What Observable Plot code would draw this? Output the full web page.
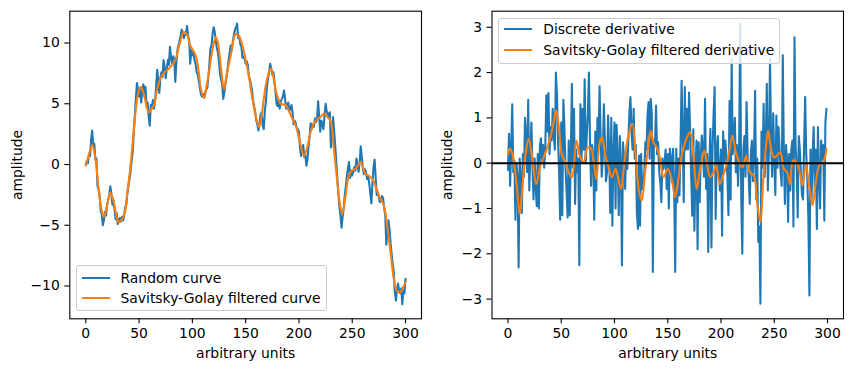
<!DOCTYPE html>
<html><head><meta charset="utf-8">
<script src="https://cdn.jsdelivr.net/npm/d3@7"></script>
<script src="https://cdn.jsdelivr.net/npm/@observablehq/plot@0.6"></script>
<style>
body{margin:0;background:#fff;font-family:"DejaVu Sans",sans-serif;}
#wrap{position:relative;width:853px;height:371px;}
.plot{position:absolute;top:0;}
.legend{position:absolute;border:1px solid #cccccc;border-radius:3px;background:rgba(255,255,255,0.8);box-sizing:border-box;}
.row{position:absolute;left:0;height:20px;display:flex;align-items:center;font-size:13.9px;color:#000;white-space:nowrap;}
.sw{display:inline-block;width:28px;height:2px;margin-left:5px;margin-right:11px;}
</style></head>
<body>
<div id="wrap"></div>
<script>
const xTicks = [0, 50, 100, 150, 200, 250, 300];
const leftYTicks = [-10, -5, 0, 5, 10];
const rightYTicks = [-3, -2, -1, 0, 1, 2, 3];
const seriesNames = ["Random curve", "Savitsky-Golay filtered curve"];
const derivNames = ["Discrete derivative", "Savitsky-Golay filtered derivative"];
const xLabel = "arbitrary units";
const yLabel = "amplitude";

// Random curve (index = arbitrary units)
const randomCurve = [
0.0,0.3,0.1,0.9,0.7,2.0,2.8,1.6,1.7,0.4,
0.5,-1.8,-2.0,-2.6,-3.8,-4.1,-5.0,-4.6,-3.9,-4.2,
-3.3,-2.9,-2.5,-1.8,-2.4,-3.3,-3.0,-3.7,-4.5,-4.0,
-4.9,-4.6,-4.4,-4.7,-4.3,-4.6,-4.2,-3.5,-3.3,-2.4,
-1.8,-1.2,-0.6,0.3,1.0,2.6,4.0,5.4,6.7,6.2,
5.6,6.2,5.1,6.0,6.6,5.9,6.4,4.8,5.1,4.0,
3.2,4.9,4.8,5.3,4.6,5.2,6.4,7.8,6.9,5.9,
7.1,7.6,7.2,8.6,8.0,7.1,7.9,8.6,8.2,9.7,
8.8,8.3,8.9,8.7,6.8,8.4,9.4,9.8,10.2,10.6,
11.1,10.8,10.4,10.7,10.7,11.4,10.6,10.2,8.3,9.4,
9.0,9.2,8.6,8.3,7.6,7.4,6.9,6.3,5.8,5.6,
5.8,5.5,5.9,6.2,6.3,7.2,8.3,9.6,9.8,10.8,
11.3,10.9,10.2,9.6,9.2,8.4,7.4,7.0,6.6,5.4,
5.9,6.6,7.2,7.8,8.6,9.2,9.8,9.4,10.1,10.7,
11.1,11.3,11.6,10.4,10.6,9.9,9.7,8.8,8.9,8.7,
8.3,8.5,8.2,7.3,7.0,6.6,6.1,5.2,4.8,4.3,
3.6,3.3,2.8,3.4,4.1,4.3,3.2,2.9,4.4,5.2,
6.4,7.1,7.6,8.3,7.9,7.4,7.6,6.9,6.0,5.0,
4.8,5.3,4.6,5.2,5.4,5.6,6.1,5.4,4.6,4.9,
5.1,4.4,4.6,4.9,4.3,3.3,3.6,3.4,3.0,2.9,
2.7,1.4,0.7,1.2,1.6,0.6,0.8,-0.1,0.4,1.5,
2.3,3.4,2.9,3.3,3.1,3.8,3.5,3.7,5.2,3.9,
2.7,3.6,3.4,2.9,4.0,5.0,4.4,4.2,3.8,4.3,
1.4,2.3,3.9,2.8,1.6,0.3,-1.1,-2.4,-3.5,-4.2,
-5.2,-4.3,-3.6,-2.5,-1.8,-1.0,-0.3,0.2,-1.1,-0.5,
-0.9,-0.6,-0.2,-0.5,0.5,0.0,-0.6,0.2,1.5,0.6,
-0.3,-0.8,-0.4,-0.7,-1.2,-1.0,-1.6,-2.4,-3.2,-1.5,
-0.2,0.4,-1.1,-2.5,-2.3,-2.7,-3.1,-2.9,-2.6,-2.8,
-3.6,-4.2,-6.6,-5.5,-4.6,-5.3,-6.5,-7.4,-8.2,-8.9,
-10.5,-11.2,-10.3,-9.8,-10.4,-10.6,-10.2,-11.5,-10.4,-10.6,
-9.4
];

// Savitsky-Golay filtered curve, read at sample positions
const sgCurveX = [0,3,6,9,12,15,17,20,23,26,29,31,34,37,39,42,45,47,49,51.6,55,59,62,64,67,70,74,78,81,84,88,92,95,98,103,106,108,111,113,115.6,119,122,124,127,129.7,132,136,140.6,144,147,150,153,156,159.4,162.5,165,167,170,173.4,176,178,182.8,187.5,190,193.75,197,201.6,204.7,208,211,215.6,220,224.4,227,229.7,232.8,236,238.5,240.6,243.8,246,248.5,253,256,258,260,262.5,265,268.8,272,275,279.7,282,284.4,286.5,289,292,295.3,298.4,300];
const sgCurveY = [-0.1,0.8,1.6,0.5,-2.0,-3.8,-4.3,-3.4,-2.3,-3.0,-4.3,-4.75,-4.5,-3.8,-2.3,-0.1,2.8,4.6,5.8,6.4,5.6,4.3,4.6,4.9,6.2,7.05,7.6,7.9,8.2,8.6,9.9,10.9,10.7,9.8,9.0,7.6,6.2,5.5,6.3,7.6,9.5,10.5,10.0,7.8,6.2,7.3,9.0,10.75,10.5,9.8,8.6,7.3,5.6,4.0,3.1,4.0,5.4,7.0,7.9,7.2,6.2,5.0,4.9,4.5,3.8,3.2,1.6,0.7,1.5,2.7,3.6,3.9,4.2,3.9,3.6,1.3,-1.45,-3.3,-4.1,-2.55,-1.2,-0.6,-0.35,0.0,0.2,-0.2,-0.8,-0.9,-1.2,-1.8,-2.55,-3.4,-4.5,-6.1,-7.6,-9.4,-10.4,-10.5,-10.0,-9.7];

// Discrete derivative (index = arbitrary units)
const derivative = [
-0.15,0.65,-0.5,0.3,1.3,-0.2,0.05,-1.25,0.0,-0.3,
-2.3,0.1,-0.4,-1.1,0.2,-0.3,1.0,0.6,-0.2,1.4,
-0.6,0.2,0.9,-0.1,-0.8,0.1,-0.5,-0.95,0.2,-1.0,
0.4,0.55,0.0,0.4,-0.1,0.3,1.5,0.7,1.55,0.2,
0.8,0.5,1.2,0.6,0.3,2.0,1.5,0.5,-0.2,-1.25,
0.9,-1.15,1.4,0.8,-0.1,-0.6,-1.2,0.5,-1.15,0.2,
1.75,-0.1,1.2,-0.9,0.3,-0.2,0.1,-2.25,1.3,0.0,
1.2,0.3,1.85,0.0,0.6,1.1,2.0,0.5,-0.5,0.4,
0.2,-1.25,0.7,-0.6,1.0,0.4,1.7,0.6,-0.3,0.1,
1.3,0.5,-0.4,-0.2,1.05,0.3,-1.1,1.0,-1.38,0.2,
0.9,-1.0,0.85,0.1,-1.15,0.6,0.0,-2.26,0.46,0.1,
-0.57,0.3,-0.13,0.5,1.12,1.46,0.68,0.3,1.2,0.1,
0.4,-1.08,-1.45,0.17,-1.38,0.2,-0.57,-0.42,-0.2,0.46,
0.3,1.05,1.35,0.1,1.42,1.12,-2.4,0.5,0.39,1.27,
0.2,0.46,-0.2,-0.42,-0.86,0.1,-0.13,0.02,0.3,-0.57,
0.2,-1.0,0.32,0.1,-0.42,0.32,-0.5,-2.4,0.32,-0.86,
0.1,-0.71,0.4,1.82,0.61,-0.86,1.68,0.3,1.2,0.31,
1.56,0.75,-0.3,-1.16,0.75,-1.49,-0.2,0.5,-1.9,0.46,
-0.86,0.2,0.61,0.31,-0.3,1.42,-0.57,0.2,-1.96,-0.05,
0.76,-1.86,0.3,1.05,1.68,-1.23,0.3,0.6,-0.2,-0.6,
0.3,-1.6,0.7,0.0,0.5,0.2,-0.3,-1.15,1.38,-0.8,
2.3,0.2,0.6,1.0,-0.2,0.4,-0.5,0.3,3.07,-0.8,
-2.0,0.3,0.6,-0.3,1.35,0.2,-0.3,-0.9,0.2,0.5,
-0.4,0.2,1.6,-0.8,0.1,-1.74,-1.4,-3.1,0.7,-0.1,
1.31,-0.3,0.4,1.75,-0.6,0.3,2.3,0.5,-0.3,1.1,
0.1,-0.7,1.05,-0.1,0.8,0.3,-0.2,-0.5,2.38,0.2,
-0.9,0.4,0.1,-1.3,0.2,-0.6,0.3,0.5,-1.4,2.78,
0.4,-0.1,-1.2,0.6,0.3,-0.2,-0.7,-0.8,0.4,1.46,
0.2,-0.35,-1.2,-2.92,0.3,-0.8,0.2,0.8,-0.6,0.3,
-1.45,0.8,-0.3,-1.0,0.5,0.1,0.4,-1.27,0.9,1.2
];

// Savitsky-Golay filtered derivative, read at sample positions
const sgDerivX = [0,1.6,3.8,6,8.5,11,13.2,16.3,19.4,22.5,26.6,30.4,33.5,36.6,39.8,42.9,45.4,47.6,50.7,53.9,57,60.1,64.2,67.3,71.1,74.8,78,80.5,83,86.1,88.3,91.4,94.4,97.5,101.1,103.6,106.1,109.3,113,116.8,119.9,123.1,125.6,128.7,131.8,134.3,136.5,139.6,142.8,145.9,150,153.7,156.9,160,163.1,166.9,171,174.1,177.2,180.4,184.4,186.6,189.8,192.9,195.4,198.8,202,205.1,207.6,210.7,213.9,217,220.1,223.9,227,230.8,233.9,237,239.5,242,244.2,246.4,249.6,252.7,255.8,259,262.1,264.6,267.7,270.9,274,276.5,279.6,282.8,285.9,289,292.2,296,299.1];
const sgDerivY = [0.2,0.32,0.24,-0.05,-0.57,-1.12,-0.64,0.17,0.54,0.17,-0.46,-0.05,0.13,0.32,0.57,0.9,1.16,0.83,0.17,0.02,-0.2,-0.31,0.5,0.17,0.02,0.35,0.32,0.02,-0.35,0.46,0.57,0.17,-0.07,-0.31,-0.13,-0.35,-0.57,0.02,0.61,0.87,0.17,-0.64,-0.82,-0.2,0.39,0.72,0.46,0.35,0.1,-0.31,-0.13,-0.35,-0.75,-0.35,0.17,0.5,0.68,0.17,-0.57,-0.13,0.28,0.02,-0.31,-0.2,-0.05,-0.46,-0.27,-0.05,0.24,0.61,0.24,0.02,-0.09,0.17,-0.2,-0.27,-0.86,-1.3,-0.42,0.32,0.72,0.39,0.13,0.17,0.24,-0.13,-0.2,-0.46,0.06,0.02,-0.2,-0.49,-0.05,-0.49,-0.93,-0.42,-0.05,0.02,0.32];

const BLUE = "#1f77b4", ORANGE = "#ff7f0e";
const FS = 13.9;
const fmt = d => d < 0 ? "\u2212" + Math.abs(d) : String(d);
const commonStyle = {fontSize: FS + "px", fontFamily: "DejaVu Sans", background: "white", overflow: "visible"};

const curveData = randomCurve.map((v, i) => ({x: i, y: v}));
const sgCurveData = sgCurveX.map((x, i) => ({x, y: sgCurveY[i]}));
const derivData = derivative.map((v, i) => ({x: i, y: v}));
const sgDerivData = sgDerivX.map((x, i) => ({x, y: sgDerivY[i]}));

function axes(yTicks, ylabDx) {
  return [
    Plot.axisX({ticks: xTicks, tickSize: 5, tickPadding: 4, tickFormat: fmt, label: null, fontSize: FS, stroke: "black", strokeWidth: 1.1}),
    Plot.axisY({ticks: yTicks, tickSize: 5, tickPadding: 5, tickFormat: fmt, label: null, fontSize: FS, stroke: "black", strokeWidth: 1.1}),
    Plot.text([xLabel], {text: d => d, frameAnchor: "bottom", dy: 35, fontSize: FS, lineAnchor: "middle", fill: "black"}),
    Plot.text([yLabel], {text: d => d, frameAnchor: "left", dx: ylabDx, rotate: -90, fontSize: FS, textAnchor: "middle", lineAnchor: "middle", fill: "black"}),
    Plot.frame({stroke: "black", strokeWidth: 1.1})
  ];
}

const left = Plot.plot({
  width: 430, height: 371,
  marginLeft: 69.3, marginRight: 9, marginTop: 10.7, marginBottom: 52.7,
  style: commonStyle,
  x: {domain: [-15, 315]},
  y: {domain: [-12.70, 12.62]},
  marks: [
    Plot.line(curveData, {x: "x", y: "y", stroke: BLUE, strokeWidth: 2.08}),
    Plot.line(sgCurveData, {x: "x", y: "y", stroke: ORANGE, strokeWidth: 2.08, curve: "catmull-rom"}),
    ...axes(leftYTicks, -52.6)
  ]
});

const right = Plot.plot({
  width: 423, height: 371,
  marginLeft: 61.5, marginRight: 10, marginTop: 10.7, marginBottom: 52.7,
  style: commonStyle,
  x: {domain: [-15, 315]},
  y: {domain: [-3.435, 3.355]},
  marks: [
    Plot.line(derivData, {x: "x", y: "y", stroke: BLUE, strokeWidth: 2.08}),
    Plot.line(sgDerivData, {x: "x", y: "y", stroke: ORANGE, strokeWidth: 2.08, curve: "catmull-rom"}),
    Plot.ruleY([0], {stroke: "black", strokeWidth: 2}),
    ...axes(rightYTicks, -44.8)
  ]
});

const wrap = document.getElementById("wrap");
left.classList.add("plot"); left.style.left = "0px";
right.classList.add("plot"); right.style.left = "430px";
wrap.appendChild(left);
wrap.appendChild(right);

function legend(names, box, rowYs) {
  const div = document.createElement("div");
  div.className = "legend";
  div.style.left = box.left + "px";
  div.style.top = box.top + "px";
  div.style.width = box.width + "px";
  div.style.height = box.height + "px";
  names.forEach((n, i) => {
    const r = document.createElement("div");
    r.className = "row";
    r.style.top = (rowYs[i] - box.top - 10) + "px";
    const sw = document.createElement("span");
    sw.className = "sw";
    sw.style.background = i === 0 ? BLUE : ORANGE;
    const t = document.createElement("span");
    t.textContent = n;
    r.appendChild(sw); r.appendChild(t);
    div.appendChild(r);
  });
  wrap.appendChild(div);
}
legend(seriesNames, {left: 75.5, top: 265, width: 251, height: 46}, [276.5, 297.3]);
legend(derivNames, {left: 498.3, top: 17.7, width: 282, height: 46}, [28.3, 48.8]);
</script>
</body></html>
